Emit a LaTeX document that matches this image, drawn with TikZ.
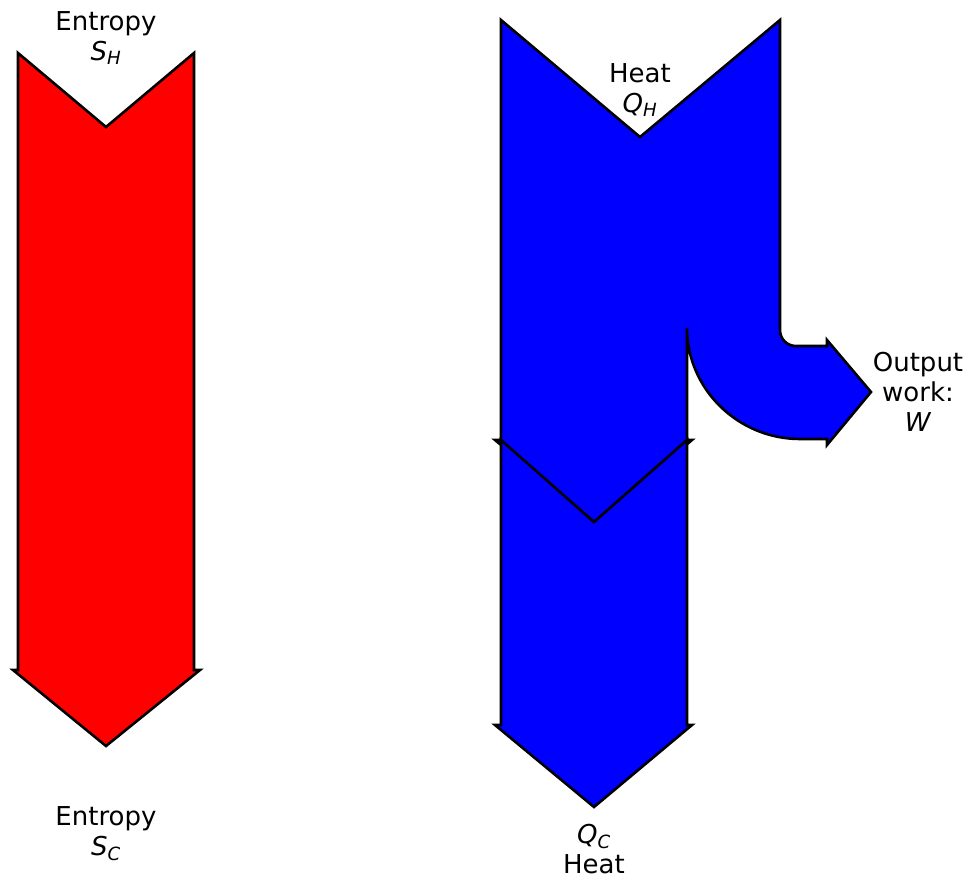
\documentclass[tikz,border=0pt]{standalone}
\usepackage{fontspec}
\setmainfont{DejaVu Sans}
\usetikzlibrary{positioning}

\begin{document}
\begin{tikzpicture}[
    x=1pt, y=-1pt,
    flow/.style={draw=black, line width=2.6pt, line join=miter},
    entropy/.style={flow, fill=red},
    heat/.style={flow, fill=blue},
    lbl/.style={align=center, inner sep=0pt, font=\fontsize{26}{30}\selectfont}
]
\useasboundingbox (0,0) rectangle (969,880);

% Entropy arrow (left)
\draw[entropy] (18,53) -- (106,127) -- (194,53) -- (194,670) -- (200,670)
    -- (106,746) -- (13,670) -- (18,670) -- cycle;

% Heat arrow with work branch (right, upper part)
\draw[heat] (501,20) -- (640,137) -- (780,20) -- (780,330)
    .. controls (780,339) and (787,346) .. (796,346) -- (827,346) -- (827,340)
    -- (871,392) -- (827,445) -- (827,439) -- (800,439)
    .. controls (738,439) and (687,389) .. (687,328) -- (687,440) -- (692,440)
    -- (594,522) -- (495,440) -- (501,440) -- cycle;

% Heat arrow (right, lower part)
\draw[heat] (501,440) -- (594,522) -- (687,440) -- (687,725) -- (692,725)
    -- (594,807) -- (495,725) -- (501,725) -- cycle;

% Labels
\node[lbl] (entH) at (106,38) {Entropy\\\textit{S\textsubscript{H}}};
\node[lbl] (entC) at (106,834) {Entropy\\\textit{S\textsubscript{C}}};
\node[lbl] (heatH) at (640,90) {Heat\\\textit{Q\textsubscript{H}}};
\node[lbl] (heatC) at (594,849) {\textit{Q\textsubscript{C}}\\Heat};
\node[lbl] (work) at (918,392) {Output\\work:\\\textit{W}};
\end{tikzpicture}
\end{document}
